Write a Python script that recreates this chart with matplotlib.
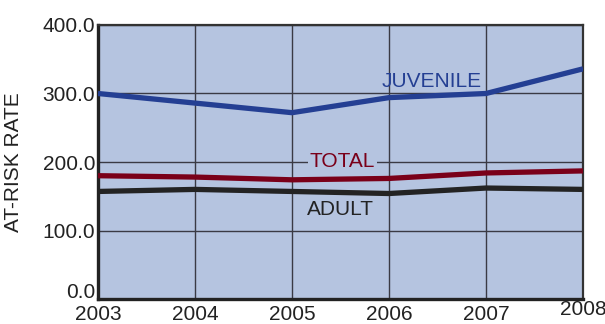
import matplotlib
matplotlib.use("Agg")
import matplotlib.pyplot as plt
from matplotlib.transforms import ScaledTranslation

years = [2003, 2004, 2005, 2006, 2007, 2008]
juvenile = [300, 286, 272, 294, 300, 336]
total = [180, 178, 174, 176, 184, 187]
adult = [157, 160, 157, 154, 162, 160]
yticks = [0, 100, 200, 300, 400]

plt.rcParams['font.family'] = ['Liberation Sans', 'DejaVu Sans']

fig = plt.figure(figsize=(6.05, 3.24), dpi=100)
ax = fig.add_axes([98 / 605, 25 / 324, 485 / 605, 274 / 324])
bg = '#b5c4e0'
ax.set_facecolor(bg)

ax.plot(years, juvenile, color='#243f93', lw=3.8, solid_capstyle='butt', zorder=3)
ax.plot(years, total, color='#7a0019', lw=3.8, solid_capstyle='butt', zorder=3)
ax.plot(years, adult, color='#232323', lw=3.8, solid_capstyle='butt', zorder=3)

ax.set_xlim(2003, 2008)
ax.set_ylim(0, 400)
ax.set_xticks(years)
ax.set_yticks(yticks)
ax.set_yticklabels(['%.1f' % v for v in yticks])
ax.grid(True, color='#3a3a44', lw=1.0, zorder=1)
ax.set_axisbelow(True)
ax.tick_params(length=0, labelsize=15, colors='#222222', pad=2)
ax.tick_params(axis='x', pad=4.5)

# small nudges seen in the original
lbl = ax.get_yticklabels()[0]
lbl.set_transform(lbl.get_transform() + ScaledTranslation(0, 8 / 100, fig.dpi_scale_trans))
lbl = ax.get_xticklabels()[-1]
lbl.set_transform(lbl.get_transform() + ScaledTranslation(0, 5 / 100, fig.dpi_scale_trans))

for s in ['left', 'bottom']:
    ax.spines[s].set_linewidth(2.4)
    ax.spines[s].set_color('#222222')
for s in ['top', 'right']:
    ax.spines[s].set_linewidth(1.6)
    ax.spines[s].set_color('#333333')

ax.set_ylabel('AT-RISK RATE', fontsize=15, color='#222222', labelpad=14)

box = dict(facecolor=bg, edgecolor='none', pad=1.5)
ax.text(2006.44, 318, 'JUVENILE', color='#243f93', fontsize=15, ha='center', va='center', zorder=2)
ax.text(2005.52, 201, 'TOTAL', color='#7a0019', fontsize=15, ha='center', va='center', bbox=box, zorder=2)
ax.text(2005.5, 131, 'ADULT', color='#232323', fontsize=15, ha='center', va='center', zorder=2)

fig.savefig('out.png', dpi=100)
